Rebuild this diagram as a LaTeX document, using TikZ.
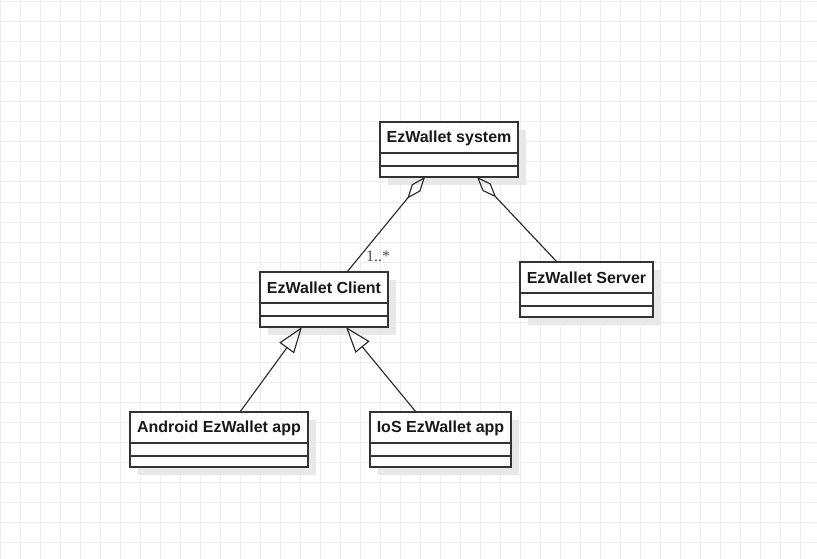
\documentclass[tikz,border=0pt]{standalone}
\usepackage{fontspec}
\setmainfont{Liberation Sans}
\newfontfamily\labelfont{Liberation Serif}
\usetikzlibrary{arrows.meta}

\definecolor{gridgray}{HTML}{EDEDED}
\definecolor{shadowgray}{HTML}{E8E8E8}
\definecolor{linegray}{HTML}{333333}

\tikzset{
  classbox/.style={draw=linegray, line width=1.5pt, fill=white, inner sep=0pt, outer sep=0pt, minimum height=55pt, anchor=north west},
  classtitle/.style={font=\fontsize{16}{19}\selectfont\bfseries, text=black!90},
  compline/.style={draw=linegray, line width=1.3pt},
  aggr/.style={draw=black!85, line width=1.1pt, -{Diamond[open, length=28pt, width=11pt]}},
  inherit/.style={draw=black!85, line width=1.1pt, -{Triangle[open, length=26pt, width=18pt]}},
}

\newcommand\umlclass[5]{%
  \fill[shadowgray] (#2+8,#3+8) rectangle (#2+#4+8,#3+63);
  \node[classbox, minimum width=#4pt] (#1) at (#2,#3) {};
  \node[classtitle] (#1title) at ([yshift=-16pt]#1.north) {#5};
  \draw[compline] ([yshift=-31pt]#1.north west) -- ([yshift=-31pt]#1.north east);
  \draw[compline] ([yshift=-44pt]#1.north west) -- ([yshift=-44pt]#1.north east);
}

\begin{document}
\begin{tikzpicture}[x=1pt, y=-1pt]
    \useasboundingbox (0,0) rectangle (817,559);
    \fill[white] (0,0) rectangle (817,559);
    % background grid
    \foreach \gx in {0,20,...,800} \draw[gridgray, line width=1pt] (\gx,0) -- (\gx,559);
    \foreach \gy in {2,22,...,542} \draw[gridgray, line width=1pt] (0,\gy) -- (817,\gy);

    \umlclass{sys}{380}{122}{138}{EzWallet system}
    \umlclass{client}{260}{272}{128}{EzWallet Client}
    \umlclass{server}{520}{262}{133}{EzWallet Server}
    \umlclass{android}{130}{412}{178}{Android EzWallet app}
    \umlclass{ios}{370}{412}{141}{IoS EzWallet app}

    \draw[aggr] ([xshift=23pt]client.north) -- ([xshift=-24pt]sys.south);
    \draw[aggr] ([xshift=-29.5pt]server.north) -- ([xshift=28pt]sys.south);
    \node[anchor=base west, inner sep=0pt, font=\labelfont\fontsize{16}{19}\selectfont, text=black!70] (mult) at (366,261) {1..*};

    \draw[inherit] ([xshift=21pt]android.north) -- ([xshift=-22pt]client.south);
    \draw[inherit] ([xshift=-24.5pt]ios.north) -- ([xshift=22pt]client.south);
\end{tikzpicture}
\end{document}
